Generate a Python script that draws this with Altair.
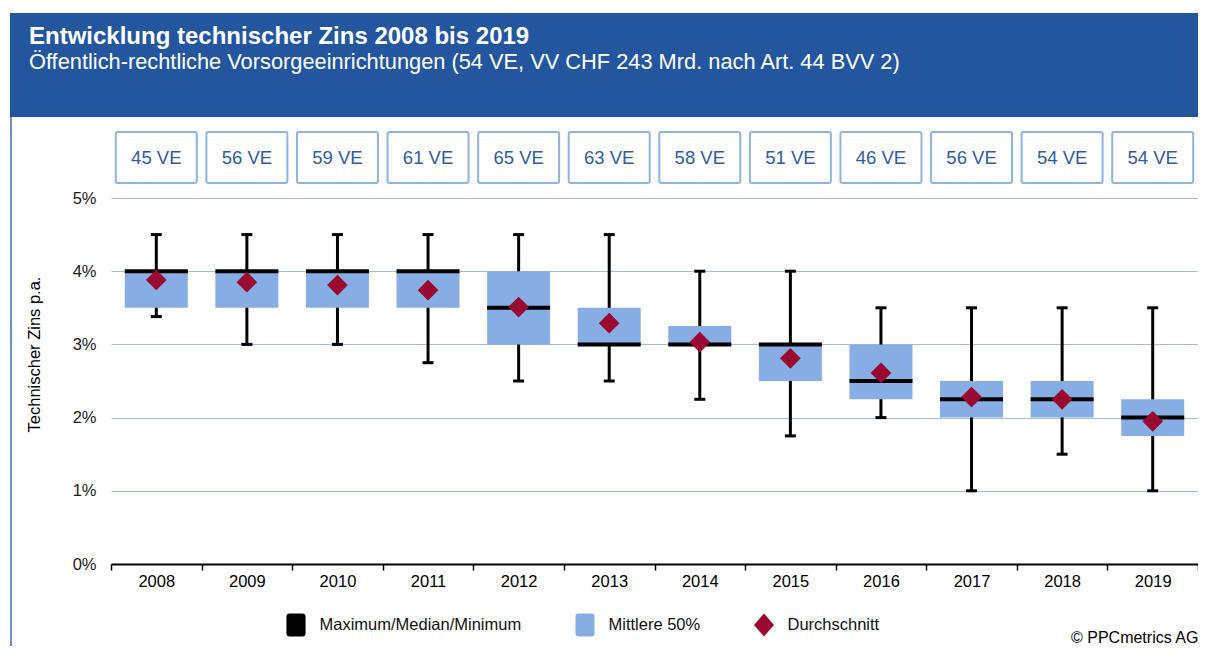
import altair as alt
import pandas as pd

# ---------------- data ----------------
years = ["2008", "2009", "2010", "2011", "2012", "2013",
         "2014", "2015", "2016", "2017", "2018", "2019"]
ve_counts = [45, 56, 59, 61, 65, 63, 58, 51, 46, 56, 54, 54]
maximum = [4.5, 4.5, 4.5, 4.5, 4.5, 4.5, 4.0, 4.0, 3.5, 3.5, 3.5, 3.5]
quartile3 = [4.0, 4.0, 4.0, 4.0, 4.0, 3.5, 3.25, 3.0, 3.0, 2.5, 2.5, 2.25]
median = [4.0, 4.0, 4.0, 4.0, 3.5, 3.0, 3.0, 3.0, 2.5, 2.25, 2.25, 2.0]
quartile1 = [3.5, 3.5, 3.5, 3.5, 3.0, 3.0, 3.0, 2.5, 2.25, 2.0, 2.0, 1.75]
minimum = [3.38, 3.0, 3.0, 2.75, 2.5, 2.5, 2.25, 1.75, 2.0, 1.0, 1.5, 1.0]
mean = [3.88, 3.85, 3.81, 3.74, 3.51, 3.29, 3.03, 2.81, 2.61, 2.28, 2.25, 1.95]
y_ticks = [0, 1, 2, 3, 4, 5]
legend_items = ["Maximum/Median/Minimum", "Mittlere 50%", "Durchschnitt"]

title_text = "Entwicklung technischer Zins 2008 bis 2019"
subtitle_text = ("Öffentlich-rechtliche Vorsorgeeinrichtungen "
                 "(54 VE, VV CHF 243 Mrd. nach Art. 44 BVV 2)")
y_title = "Technischer Zins p.a."
copyright_text = "© PPCmetrics AG"

# ---------------- styles ----------------
FONT = "Liberation Sans"
HEADER_BLUE = "#2456A0"
BOX_BLUE = "#86AEE4"
GRID_BLUE = "#A3BDE3"
VE_STROKE = "#8DB4E3"
VE_TEXT = "#2E5CA6"
MEAN_RED = "#9A0A30"

df = pd.DataFrame({
    "year": years,
    "ve": [f"{v} VE" for v in ve_counts],
    "vmax": maximum,
    "q3": quartile3,
    "med": median,
    "q1": quartile1,
    "vmin": minimum,
    "mean": mean,
})

one = pd.DataFrame({"a": [1]})

x_enc = alt.X(
    "year:N",
    sort=years,
    scale=alt.Scale(paddingInner=0, paddingOuter=0),
    axis=alt.Axis(
        title=None, labelAngle=0, labelFontSize=16.5, labelColor="#000000",
        labelFont=FONT, tickBand="extent", tickSize=6, tickWidth=1.5,
        tickColor="#000000", domainColor="#000000", domainWidth=2,
        labelPadding=3, grid=False,
    ),
)
y_scale = alt.Scale(domain=[0, 5], nice=False)

base = alt.Chart(df)

# header band
header = alt.Chart(one).mark_rect(color=HEADER_BLUE).encode(
    x=alt.value(-101), x2=alt.value(1100),
    y=alt.value(-185), y2=alt.value(-81),
)
left_border = alt.Chart(one).mark_rule(color="#3A68B8", strokeWidth=1.5).encode(
    x=alt.value(-100), y=alt.value(-81), y2=alt.value(470),
)
title = alt.Chart(pd.DataFrame({"t": [title_text]})).mark_text(
    align="left", baseline="alphabetic", font=FONT, fontSize=24,
    fontWeight="bold", color="white",
).encode(x=alt.value(-82), y=alt.value(-154), text="t:N")
subtitle = alt.Chart(pd.DataFrame({"t": [subtitle_text]})).mark_text(
    align="left", baseline="alphabetic", font=FONT, fontSize=21.8,
    color="white",
).encode(x=alt.value(-82), y=alt.value(-129), text="t:N")

# VE boxes
ve_box = base.mark_bar(
    size=81, fill="white", stroke=VE_STROKE, strokeWidth=2, cornerRadius=2,
).encode(x=x_enc, y=alt.value(-66), y2=alt.value(-15))
ve_text = base.mark_text(
    font=FONT, fontSize=18.5, color=VE_TEXT, baseline="middle",
).encode(x=x_enc, y=alt.value(-40), text="ve:N")

# box plot parts
whisker = base.mark_rule(color="black", strokeWidth=3).encode(
    x=x_enc,
    y=alt.Y("vmin:Q", scale=y_scale, axis=alt.Axis(
        values=y_ticks, labelExpr="datum.value + '%'", title=y_title,
        titleFont=FONT, titleFontSize=16.5, titleFontWeight="normal",
        titleColor="#000000", titleAngle=270, titleX=-77, titleY=156,
        titleAlign="center", titleBaseline="middle",
        labelFont=FONT, labelFontSize=16.5, labelColor="#1a1a1a",
        labelPadding=15, ticks=False, domain=False,
        grid=True, gridColor=GRID_BLUE, gridWidth=1,
    )),
    y2="vmax:Q",
)
cap_max = base.mark_tick(color="black", size=11, thickness=3, opacity=1).encode(
    x=x_enc, y=alt.Y("vmax:Q", scale=y_scale))
cap_min = base.mark_tick(color="black", size=11, thickness=3, opacity=1).encode(
    x=x_enc, y=alt.Y("vmin:Q", scale=y_scale))
box = base.mark_bar(size=63, color=BOX_BLUE).encode(
    x=x_enc, y=alt.Y("q1:Q", scale=y_scale), y2="q3:Q")
med = base.mark_tick(color="black", size=63, thickness=4, opacity=1).encode(
    x=x_enc, y=alt.Y("med:Q", scale=y_scale))
avg = base.mark_point(shape="diamond", filled=True, size=430, color=MEAN_RED,
                      opacity=1).encode(
    x=x_enc, y=alt.Y("mean:Q", scale=y_scale))

# legend (symbols placed off-canvas, legend drawn by Vega)
rrect = ("M-0.55,-1 L0.55,-1 Q0.83,-1 0.83,-0.72 L0.83,0.72 Q0.83,1 0.55,1 "
         "L-0.55,1 Q-0.83,1 -0.83,0.72 L-0.83,-0.72 Q-0.83,-1 -0.55,-1 Z")
tall_diamond = "M0,-1 L0.87,0 L0,1 L-0.87,0 Z"
leg = alt.Legend(
    orient="none", legendX=173.5, legendY=415.5, direction="horizontal",
    title=None, symbolSize=529, labelFont=FONT, labelFontSize=16.5,
    labelColor="#111111", labelOffset=12, columnPadding=52, padding=0,
    symbolStrokeWidth=0, labelLimit=400, symbolOpacity=1,
)
legend_layer = alt.Chart(pd.DataFrame({"item": legend_items})).mark_point(
    filled=True, opacity=1,
).encode(
    x=alt.value(0), y=alt.value(1200),
    color=alt.Color("item:N", scale=alt.Scale(
        domain=legend_items, range=["#000000", BOX_BLUE, MEAN_RED]), legend=leg),
    shape=alt.Shape("item:N", scale=alt.Scale(
        domain=legend_items, range=[rrect, rrect, tall_diamond]), legend=leg),
)

copyright_mark = alt.Chart(pd.DataFrame({"t": [copyright_text]})).mark_text(
    align="left", baseline="middle", font=FONT, fontSize=16, color="#000000",
).encode(x=alt.value(960), y=alt.value(440), text="t:N")

chart = alt.layer(
    header, left_border, title, subtitle, ve_box, ve_text,
    whisker, cap_max, cap_min, box, med, avg, legend_layer, copyright_mark,
).properties(
    width=1087, height=366,
    autosize=alt.AutoSizeParams(type="none"),
    padding={"left": 103, "top": 190, "right": 0, "bottom": 82},
    background="white",
).configure_view(stroke=None)

chart.save("out.html", embed_options={"renderer": "svg", "actions": False})
